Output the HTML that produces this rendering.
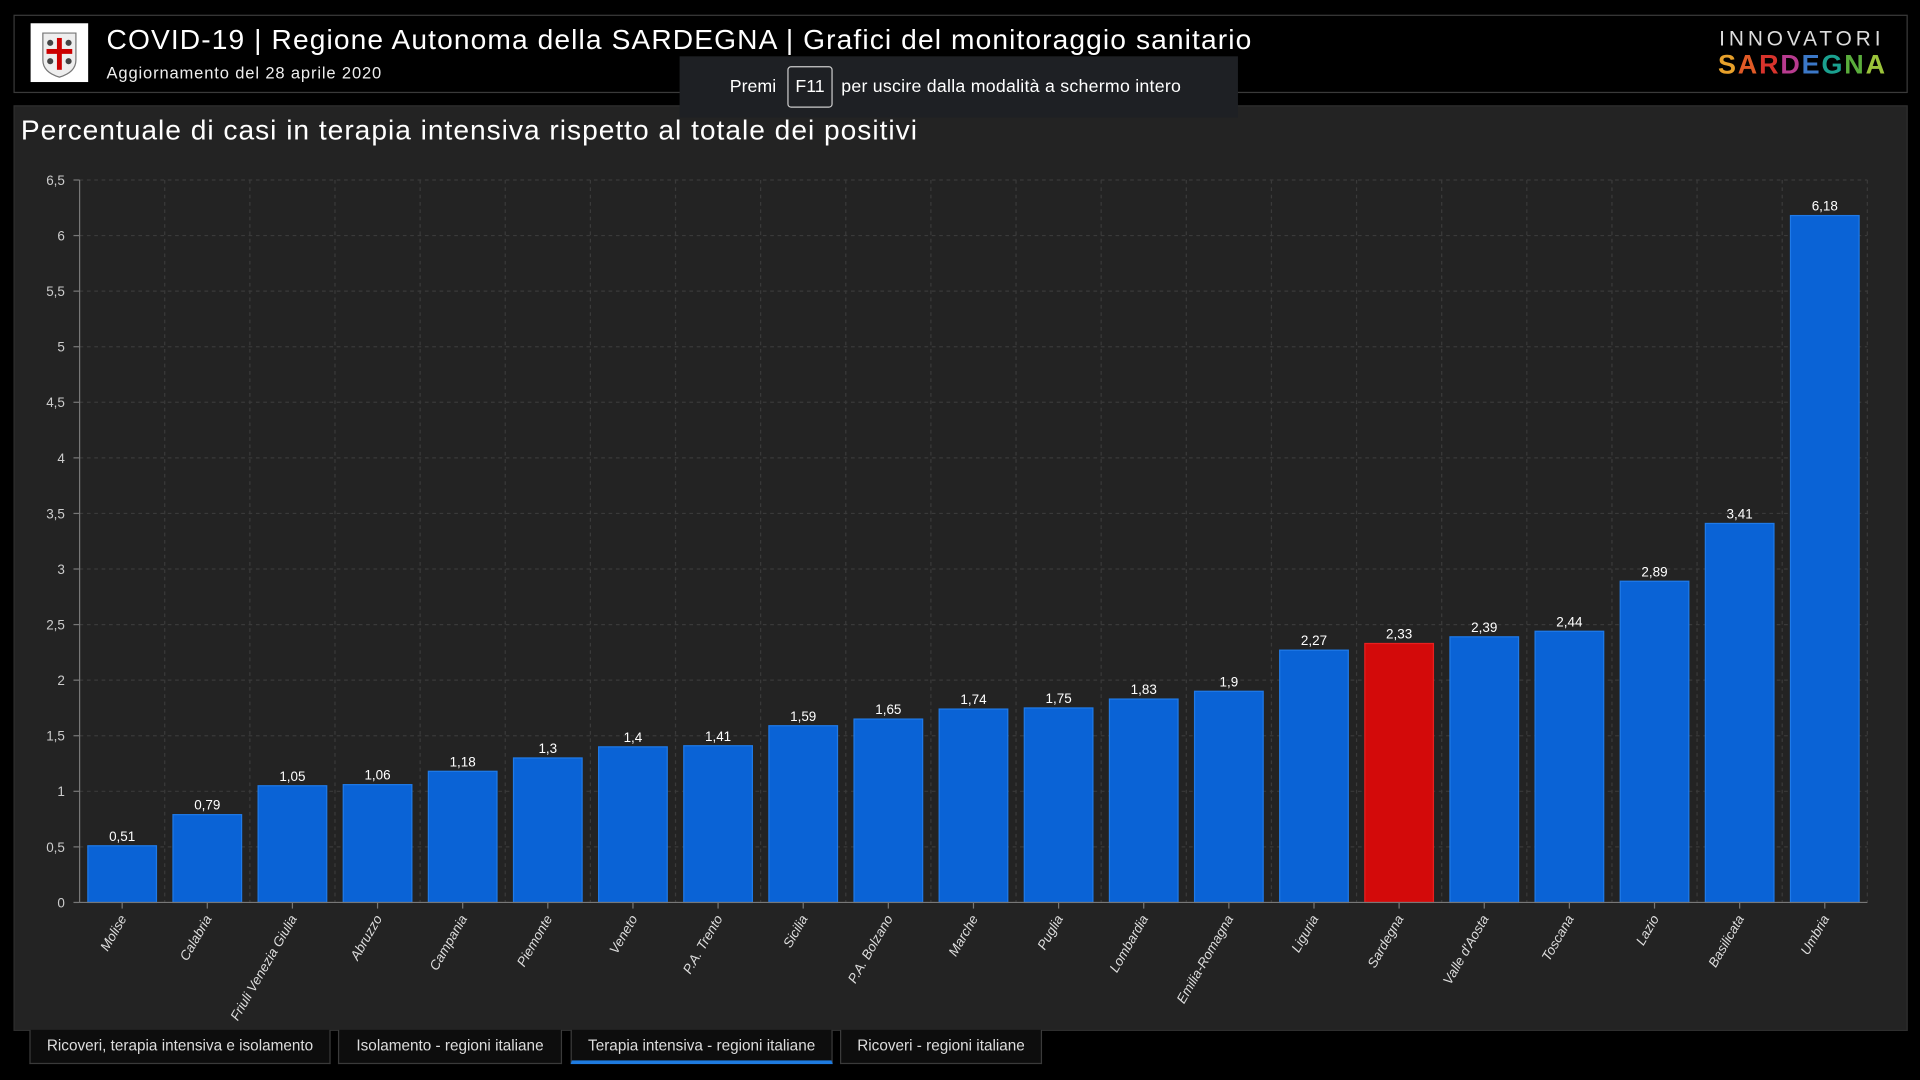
<!DOCTYPE html>
<html><head><meta charset="utf-8"><style>
*{margin:0;padding:0;box-sizing:border-box}
body{width:1920px;height:1080px;background:#000;overflow:hidden;font-family:"Liberation Sans",sans-serif}
#wrap{position:absolute;left:0;top:0;width:1568px;height:882px;transform:scale(1.22449);transform-origin:0 0}
.abs{position:absolute}
.tab{position:absolute;top:841px;height:28px;background:#0d0d0d;border:1px solid #3a3a3a;border-top:none;color:#ddd;font-size:12.5px;line-height:27px;text-align:center}
</style></head><body><div id="wrap">
<div class="abs" style="left:11px;top:12px;width:1547px;height:64px;border:1px solid #3a3a3a;background:#000"></div>
<div class="abs" style="left:25px;top:19px;width:47px;height:48px;background:#fff">
<svg width="47" height="48"><path d="M10 8 L37 8 L37 30 Q37 40 23.5 44 Q10 40 10 30 Z" fill="#eee" stroke="#777"/><rect x="21.5" y="12" width="4" height="26" fill="#c00"/><rect x="13" y="21" width="21" height="4" fill="#c00"/><circle cx="16" cy="16" r="2.5" fill="#444"/><circle cx="31" cy="16" r="2.5" fill="#444"/><circle cx="16" cy="31" r="2.5" fill="#444"/><circle cx="31" cy="31" r="2.5" fill="#444"/></svg></div>
<div class="abs" style="left:87px;top:19px;color:#fff;font-size:23px;letter-spacing:0.9px;white-space:nowrap">COVID-19 | Regione Autonoma della SARDEGNA | Grafici del monitoraggio sanitario</div>
<div class="abs" style="left:87px;top:52px;color:#eee;font-size:13.5px;letter-spacing:0.7px">Aggiornamento del 28 aprile 2020</div>
<div class="abs" style="left:1404px;top:22px;color:#ddd;font-size:17px;letter-spacing:3.2px;font-weight:300">INNOVATORI</div>
<div class="abs" style="left:1403px;top:40px;font-size:22px;font-weight:bold;letter-spacing:1.5px"><span style="color:#e8a12b">S</span><span style="color:#e05a26">A</span><span style="color:#d8332c">R</span><span style="color:#b83b8f">D</span><span style="color:#3b78c8">E</span><span style="color:#1aa08f">G</span><span style="color:#5aad3c">N</span><span style="color:#9bc43a">A</span></div>
<div class="abs" style="left:11px;top:86px;width:1547px;height:756px;background:#232323;border:1px solid #2e2e2e"></div>
<div class="abs" style="left:17px;top:93px;color:#fff;font-size:23px;letter-spacing:0.8px;white-space:nowrap">Percentuale di casi in terapia intensiva rispetto al totale dei positivi</div>
<svg class="abs" id="chart" style="left:0;top:0" width="1568" height="882"></svg>
<div class="abs" style="left:555px;top:46px;width:456px;height:50px;background:#1e2024;color:#fff;font-size:14.5px">
<span style="position:absolute;left:41px;top:17px">Premi</span>
<span style="position:absolute;left:88px;top:8px;width:37px;height:34px;border:1px solid #ccc;border-radius:3px;text-align:center;line-height:32px">F11</span>
<span style="position:absolute;left:132px;top:17px;letter-spacing:0.2px">per uscire dalla modalità a schermo intero</span></div>
<div class="tab" style="left:24px;width:246px">Ricoveri, terapia intensiva e isolamento</div>
<div class="tab" style="left:276px;width:183px">Isolamento - regioni italiane</div>
<div class="tab" style="left:466px;width:214px;border-bottom:3px solid #1e7be0">Terapia intensiva - regioni italiane</div>
<div class="tab" style="left:686px;width:165px">Ricoveri - regioni italiane</div>
</div>
<script>
const categories=["Molise","Calabria","Friuli Venezia Giulia","Abruzzo","Campania","Piemonte","Veneto","P.A. Trento","Sicilia","P.A. Bolzano","Marche","Puglia","Lombardia","Emilia-Romagna","Liguria","Sardegna","Valle d'Aosta","Toscana","Lazio","Basilicata","Umbria"];
const values=[0.51,0.79,1.05,1.06,1.18,1.3,1.4,1.41,1.59,1.65,1.74,1.75,1.83,1.9,2.27,2.33,2.39,2.44,2.89,3.41,6.18];
const yTicks=[0,0.5,1,1.5,2,2.5,3,3.5,4,4.5,5,5.5,6,6.5];
const highlight="Sardegna";
const NS="http://www.w3.org/2000/svg",svg=document.getElementById('chart');
const X0=65,X1=1525,Y0=737,Y1=147,YMAX=6.5;
const band=(X1-X0)/categories.length;
const y=v=>Y0-(v/YMAX)*(Y0-Y1);
const xc=i=>X0+band*(i+0.5);
function mk(t,a){const e=document.createElementNS(NS,t);for(const k in a)e.setAttribute(k,a[k]);svg.appendChild(e);return e;}
const fmt=v=>String(v).replace('.',',');
yTicks.forEach(t=>{
 const g=mk('line',{x1:X0,x2:X1,y1:y(t),y2:y(t),stroke:'#3a3a3a','stroke-dasharray':'3,3'});
 
 const tk=mk('line',{x1:X0-5,x2:X0,y1:y(t),y2:y(t),stroke:'#777'});
 
 const l=mk('text',{x:X0-12,y:y(t)+4,'text-anchor':'end',fill:'#ccc','font-size':'11','font-family':'Liberation Sans'});
 l.textContent=fmt(t);
 
});
for(let i=1;i<=categories.length;i++){
 const g=mk('line',{x1:X0+band*i,x2:X0+band*i,y1:Y1,y2:Y0,stroke:'#3a3a3a','stroke-dasharray':'3,3'});
 
}
const ax=mk('line',{x1:X0,x2:X0,y1:Y1,y2:Y0,stroke:'#777'});

const bw=band*0.806;
categories.forEach((c,i)=>{
 const v=values[i],red=c===highlight;
 const b=mk('rect',{x:xc(i)-bw/2,y:y(v),width:bw,height:Y0-y(v),fill:red?'#d30a0a':'#0a63d6',stroke:red?'#e82020':'#1f7ae8','stroke-width':1});
 
 
 const t=mk('text',{x:xc(i),y:y(v)-4,'text-anchor':'middle',fill:'#fff','font-size':'11','font-family':'Liberation Sans'});
 t.textContent=fmt(v);
 
 const tk=mk('line',{x1:xc(i),x2:xc(i),y1:Y0,y2:Y0+5,stroke:'#777'});
 
 const l=mk('text',{x:xc(i)+4,y:Y0+13,'text-anchor':'end',fill:'#ddd','font-size':'11','font-style':'italic','font-family':'Liberation Sans',transform:`rotate(-60 ${xc(i)+4} ${Y0+13})`});
 l.textContent=c;
 
});
const xa=mk('line',{x1:X0,x2:X1,y1:Y0,y2:Y0,stroke:'#777'});

</script>
</body></html>
